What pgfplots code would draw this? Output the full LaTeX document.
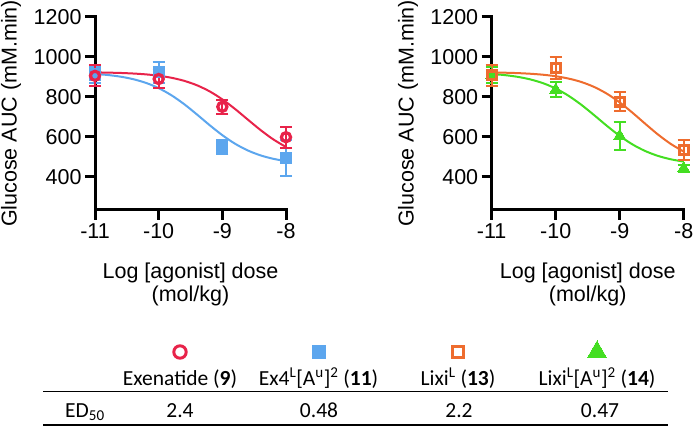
\documentclass[border=0pt]{standalone}
\usepackage{fontspec}
\setmainfont{Liberation Sans}
\newfontfamily\tabfont{Carlito}
\usepackage{pgfplots}
\usepackage{pgfplotstable}
\pgfplotsset{compat=1.18}
\definecolor{cred}{HTML}{E8234A}
\definecolor{cblue}{HTML}{5CA6EE}
\definecolor{corange}{HTML}{EE6C2E}
\definecolor{cgreen}{HTML}{44DE22}

% measured points: x, mean, error
\pgfplotstableread{
x y e
-11 906 52
-10 890 45
-9 751 35
-8 599 52
}\exena
\pgfplotstableread{
x y e
-11 912 40
-10 923 53
-9 550 37
-8 495 91
}\exfour
\pgfplotstableread{
x y e
-11 908 52
-10 945 55
-9 777 46
-8 535 52
}\lixi
\pgfplotstableread{
x y e
-11 910 40
-10 836 38
-9 605 68
-8 443 18
}\lixiau
% fitted curves
\pgfplotstableread{
x y
-11 923.1
-10.8 921.9
-10.6 920.2
-10.4 917.4
-10.2 913.1
-10.0 906.4
-9.8 896.2
-9.6 880.9
-9.4 858.8
-9.2 828.2
-9.0 788.2
-8.8 740.0
-8.6 687.1
-8.4 634.8
-8.2 588.1
-8.0 550.0
}\exenafit
\pgfplotstableread{
x y
-11 915.4
-10.8 910.0
-10.6 901.7
-10.4 889.1
-10.2 870.6
-10.0 844.3
-9.8 808.8
-9.6 764.3
-9.4 713.0
-9.2 659.4
-9.0 609.2
-8.8 566.3
-8.6 532.7
-8.4 508.1
-8.2 490.9
-8.0 479.3
}\exfourfit
\pgfplotstableread{
x y
-11 922.8
-10.8 921.5
-10.6 919.5
-10.4 916.3
-10.2 911.4
-10.0 903.8
-9.8 892.2
-9.6 875.1
-9.4 850.3
-9.2 816.4
-9.0 772.9
-8.8 721.3
-8.6 665.8
-8.4 612.0
-8.2 564.9
-8.0 527.1
}\lixifit
\pgfplotstableread{
x y
-11 915.2
-10.8 909.6
-10.6 901.1
-10.4 888.2
-10.2 869.3
-10.0 842.4
-9.8 806.3
-9.6 761.1
-9.4 709.4
-9.2 655.7
-9.0 605.5
-8.8 562.9
-8.6 529.6
-8.4 505.3
-8.2 488.4
-8.0 477.0
}\lixiaufit

\pgfplotsset{
 panel/.style={
  scale only axis, height=193pt,
  xmin=-11, xmax=-8, ymin=235, ymax=1200, clip=false,
  axis x line*=bottom, axis y line*=left,
  axis line style={line width=3pt, line cap=rect},
  tick align=outside, major tick length=10pt,
  tick style={line width=3pt, black},
  xtick={-11,-10,-9,-8}, xticklabels={-11,-10,-9,-8},
  ytick={400,600,800,1000,1200}, yticklabels={400,600,800,1000,1200},
  ticklabel style={font=\fontsize{21.5}{24}\selectfont},
  label style={font=\fontsize{21.5}{22.5}\selectfont},
  xlabel={Log [agonist] dose\\(mol/kg)},
  xlabel style={align=center, at={(axis description cs:0.5,-0.385)}, anchor=center},
  ylabel={Glucose AUC (mM.min)},
 },
 fit/.style={line width=2pt, smooth, no marks, #1},
 pts/.style={only marks, color=#1,
  error bars/y dir=both, error bars/y explicit,
  error bars/error bar style={line width=2pt, #1},
  error bars/error mark options={rotate=90, line width=2pt, mark size=6pt, #1}},
}

\begin{document}
\begin{tikzpicture}
\path[use as bounding box] (0,0) rectangle (695pt,428pt);

% left panel
\begin{axis}[panel, at={(95pt,218pt)}, anchor=south west, width=191pt,
  ylabel style={at={(axis description cs:-0.44,0.5)}, anchor=center}]
\addplot[fit=cblue] table[x=x,y=y] {\exfourfit};
\addplot[fit=cred] table[x=x,y=y] {\exenafit};
\addplot[pts=cblue, mark=square*, mark size=5.6pt, mark options={fill=cblue, draw=cblue, line width=0pt}]
  table[x=x,y=y,y error=e] {\exfour};
\addplot[pts=cred, mark=o, mark size=4.6pt, mark options={fill=white, draw=cred, line width=3.2pt}]
  table[x=x,y=y,y error=e] {\exena};
\end{axis}

% right panel
\begin{axis}[panel, at={(491.7pt,218pt)}, anchor=south west, width=192pt,
  ylabel style={at={(axis description cs:-0.436,0.5)}, anchor=center}]
\addplot[fit=cgreen] table[x=x,y=y] {\lixiaufit};
\addplot[fit=corange] table[x=x,y=y] {\lixifit};
\addplot[pts=cgreen, mark=triangle*, mark size=7pt, mark options={fill=cgreen, draw=cgreen, line width=0pt}]
  table[x=x,y=y,y error=e] {\lixiau};
\addplot[pts=corange, mark=square, mark size=4.4pt, mark options={fill=white, draw=corange, line width=3.2pt}]
  table[x=x,y=y,y error=e] {\lixi};
\end{axis}

% legend markers of the table
\begin{axis}[at={(180pt,71pt)}, anchor=south west, scale only axis, width=417pt, height=10pt,
  xmin=0, xmax=3, ymin=-1, ymax=1, hide axis, clip=false]
\addplot[only marks, mark=o, mark size=6.2pt, mark options={draw=cred, line width=3pt}] coordinates {(0,0)};
\addplot[only marks, mark=square*, mark size=6.3pt, mark options={fill=cblue, draw=cblue, line width=0pt}] coordinates {(1,0)};
\addplot[only marks, mark=square, mark size=5.5pt, mark options={draw=corange, line width=3pt}] coordinates {(2,0)};
\addplot[only marks, mark=triangle*, mark size=11pt, mark options={fill=cgreen, draw=cgreen, line width=0pt}] coordinates {(3,0)};
\end{axis}

% table
\begin{scope}[every node/.style={font=\tabfont\fontsize{21.5}{24}\selectfont, inner sep=0pt}]
\node[anchor=base] at (180pt,43pt) {Exenatide (\textbf{9})};
\node[anchor=base] at (318.5pt,43pt) {Ex4\textsuperscript{L}[A\textsuperscript{u}]\textsuperscript{2} (\textbf{11})};
\node[anchor=base] at (458pt,43pt) {Lixi\textsuperscript{L} (\textbf{13})};
\node[anchor=base] at (597pt,43pt) {Lixi\textsuperscript{L}[A\textsuperscript{u}]\textsuperscript{2} (\textbf{14})};
\node[anchor=base west] at (65pt,11pt) {ED\textsubscript{50}};
\node[anchor=base] at (180pt,11pt) {2.4};
\node[anchor=base] at (319pt,11pt) {0.48};
\node[anchor=base] at (459pt,11pt) {2.2};
\node[anchor=base] at (600pt,11pt) {0.47};
\end{scope}
\draw[line width=1.5pt] (43pt,36.3pt) -- (668pt,36.3pt);
\draw[line width=1.5pt] (43pt,3pt) -- (668pt,3pt);
\end{tikzpicture}
\end{document}
